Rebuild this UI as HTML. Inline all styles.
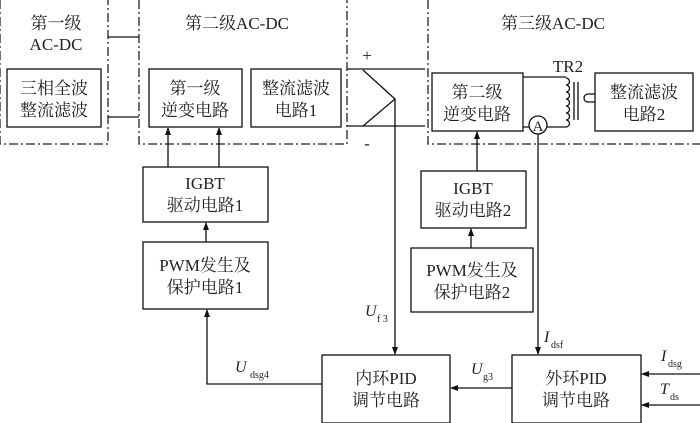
<!DOCTYPE html>
<html><head><meta charset="utf-8"><style>
html,body{margin:0;padding:0;background:#fff;}
svg{display:block;}
text{font-family:"Liberation Serif","Noto Serif CJK SC",serif;fill:#222;}
.c{font-size:17px;text-anchor:middle;}
</style></head><body>
<svg width="700" height="423" viewBox="0 0 700 423" xmlns="http://www.w3.org/2000/svg">
<defs><marker id="a" markerWidth="8" markerHeight="8" refX="7" refY="4" orient="auto" markerUnits="userSpaceOnUse"><path d="M0,1 L8,4 L0,7 Z" fill="#111"/></marker></defs>
<g fill="none" stroke="#222" stroke-width="1.3" stroke-dasharray="9 3 2 3">
<path d="M0,0 V144 H108 V0"/>
<path d="M139,0 V144 H347 V0"/>
<path d="M428,0 V144 H700"/>
</g>
<g fill="none" stroke="#111" stroke-width="1.3">
<rect x="7" y="69" width="94" height="58"/>
<rect x="149" y="69" width="93" height="58"/>
<rect x="251" y="69" width="90" height="58"/>
<rect x="432" y="73" width="91" height="58"/>
<rect x="595" y="73" width="98" height="58"/>
<rect x="143" y="167" width="125" height="55"/>
<rect x="143" y="242" width="125" height="67"/>
<rect x="421" y="171" width="105" height="57"/>
<rect x="411" y="248" width="122" height="64"/>
<rect x="322" y="355" width="128" height="68"/>
<rect x="512" y="355" width="129" height="68"/>
<path d="M108,37 H139 M108,117 H139"/>
<path d="M347,69 H425 M347,126 H425"/>
<path d="M363,70 L395,99 L363,126"/>
<path d="M395,99 V354" marker-end="url(#a)"/>
<path d="M523,77 H566"/>
<path d="M566,78 a3.5,3.5 0 0 1 0,7 a3.5,3.5 0 0 1 0,7 a3.5,3.5 0 0 1 0,7 a3.5,3.5 0 0 1 0,7 a3.5,3.5 0 0 1 0,7 a3.5,3.5 0 0 1 0,7 a3.5,3.5 0 0 1 0,7 H547"/>
<path d="M574,82 V120 M578,82 V120"/>
<path d="M595,94 H588 a4,4 0 0 0 0,8 H595"/>
<circle cx="538" cy="125" r="9"/>
<path d="M523,127 H529"/>
<path d="M538,134 V354" marker-end="url(#a)"/>
<path d="M168,167 V128" marker-end="url(#a)"/>
<path d="M219,167 V128" marker-end="url(#a)"/>
<path d="M206,242 V223" marker-end="url(#a)"/>
<path d="M477,171 V132" marker-end="url(#a)"/>
<path d="M471,248 V229" marker-end="url(#a)"/>
<path d="M322,384 H207 V310" marker-end="url(#a)"/>
<path d="M512,388 H451" marker-end="url(#a)"/>
<path d="M700,374 H642" marker-end="url(#a)"/>
<path d="M700,405 H642" marker-end="url(#a)"/>
</g>
<text x="538" y="131" class="c" style="font-size:15px">A</text>
<text class="c" x="56" y="29">第一级</text>
<text class="c" x="56" y="50">AC-DC</text>
<text class="c" x="54" y="94">三相全波</text>
<text class="c" x="54" y="116">整流滤波</text>
<text class="c" x="237" y="29">第二级AC-DC</text>
<text class="c" x="195" y="94">第一级</text>
<text class="c" x="195" y="116">逆变电路</text>
<text class="c" x="296" y="94">整流滤波</text>
<text class="c" x="296" y="116">电路1</text>
<text class="c" x="367" y="61">+</text>
<text class="c" x="367" y="149">-</text>
<text class="c" x="553" y="29">第三级AC-DC</text>
<text class="c" x="568" y="72">TR2</text>
<text class="c" x="477" y="98">第二级</text>
<text class="c" x="477" y="120">逆变电路</text>
<text class="c" x="644" y="98">整流滤波</text>
<text class="c" x="644" y="120">电路2</text>
<text class="c" x="205" y="189">IGBT</text>
<text class="c" x="205" y="211">驱动电路1</text>
<text class="c" x="205" y="271">PWM发生及</text>
<text class="c" x="205" y="293">保护电路1</text>
<text class="c" x="473" y="194">IGBT</text>
<text class="c" x="473" y="216">驱动电路2</text>
<text class="c" x="472" y="276">PWM发生及</text>
<text class="c" x="472" y="298">保护电路2</text>
<text class="c" x="386" y="384">内环PID</text>
<text class="c" x="386" y="406">调节电路</text>
<text class="c" x="576" y="384">外环PID</text>
<text class="c" x="576" y="406">调节电路</text>
<text x="365" y="316" style="font-size:16px;font-style:italic">U</text><text x="377" y="322" style="font-size:10px">f 3</text>
<text x="544" y="342" style="font-size:16px;font-style:italic">I</text><text x="551" y="348" style="font-size:10px">dsf</text>
<text x="235" y="372" style="font-size:16px;font-style:italic">U</text><text x="250" y="378" style="font-size:10px">dsg4</text>
<text x="471" y="374" style="font-size:16px;font-style:italic">U</text><text x="483" y="380" style="font-size:10px">g3</text>
<text x="661" y="361" style="font-size:16px;font-style:italic">I</text><text x="668" y="367" style="font-size:10px">dsg</text>
<text x="660" y="394" style="font-size:16px;font-style:italic">T</text><text x="670" y="400" style="font-size:10px">ds</text>
</svg>
</body></html>
